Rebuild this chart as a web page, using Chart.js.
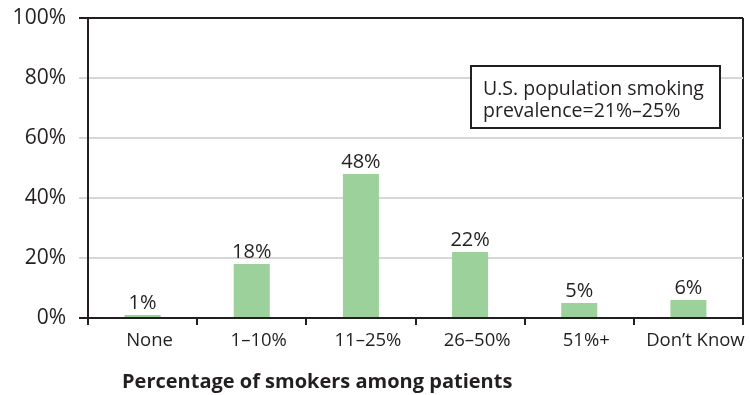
<!DOCTYPE html>
<html>
<head>
<meta charset="utf-8">
<script src="https://cdn.jsdelivr.net/npm/chart.js@4/dist/chart.umd.min.js"></script>
<style>
  html, body { margin: 0; padding: 0; background: #ffffff; }
  canvas { display: block; }
</style>
</head>
<body>
<canvas id="chart" width="750" height="395"></canvas>
<script>
// Share of physicians' patients who smoke, by reported bracket
const categories = ['None', '1–10%', '11–25%', '26–50%', '51%+', 'Don’t Know'];
const shares = [1, 18, 48, 22, 5, 6];
const yTickValues = [0, 20, 40, 60, 80, 100];
const axisTitle = 'Percentage of smokers among patients';
const noteLines = ['U.S. population smoking', 'prevalence=21%–25%'];

const INK = '#231f20';
const GRID = '#d6d6d6';
const BAR = '#9dd19b';
const FONT = "'Open Sans', sans-serif";

// Value labels above each bar
const valueLabels = {
  id: 'valueLabels',
  afterDatasetsDraw(chart) {
    const ctx = chart.ctx;
    const meta = chart.getDatasetMeta(0);
    ctx.save();
    ctx.fillStyle = INK;
    ctx.font = '20px ' + FONT;
    ctx.textAlign = 'center';
    ctx.textBaseline = 'alphabetic';
    meta.data.forEach((bar, i) => {
      ctx.fillText(shares[i] + '%', bar.x, bar.y - 6);
    });
    ctx.restore();
  }
};

// Boxed note in the upper right and the x-axis caption
const extras = {
  id: 'extras',
  afterDraw(chart) {
    const ctx = chart.ctx;
    const ca = chart.chartArea;
    ctx.save();
    const bx = ca.left + 383, by = ca.top + 48, bw = 249, bh = 62;
    ctx.fillStyle = '#ffffff';
    ctx.fillRect(bx, by, bw, bh);
    ctx.strokeStyle = INK;
    ctx.lineWidth = 2;
    ctx.strokeRect(bx, by, bw, bh);
    ctx.fillStyle = INK;
    ctx.font = '19.5px ' + FONT;
    ctx.textAlign = 'left';
    ctx.textBaseline = 'alphabetic';
    ctx.fillText(noteLines[0], bx + 12, by + 29);
    ctx.fillText(noteLines[1], bx + 12, by + 51);

    ctx.font = 'bold 20px ' + FONT;
    ctx.textBaseline = 'middle';
    ctx.fillText(axisTitle, ca.left + 34, 382);
    ctx.restore();
  }
};

new Chart(document.getElementById('chart'), {
  type: 'bar',
  data: {
    labels: categories,
    datasets: [{
      data: shares,
      backgroundColor: BAR,
      borderWidth: 0,
      categoryPercentage: 1,
      barPercentage: 0.33
    }]
  },
  options: {
    responsive: false,
    animation: false,
    devicePixelRatio: 1,
    layout: { padding: { top: 18, right: 7, left: 0, bottom: 0 } },
    plugins: {
      legend: { display: false },
      tooltip: { enabled: false }
    },
    scales: {
      x: {
        offset: true,
        afterFit(scale) {
          scale.height = 77;
          scale.paddingLeft = 0;
          scale.paddingRight = 0;
        },
        border: { display: true, color: INK, width: 2 },
        grid: {
          offset: true,
          drawOnChartArea: true,
          lineWidth: 2,
          color: c => (c.type === 'tick' ? 'rgba(0,0,0,0)' : INK),
          tickColor: INK,
          tickLength: 7
        },
        ticks: {
          color: INK,
          font: { family: FONT, size: 18.5 },
          padding: 5,
          labelOffset: 7,
          maxRotation: 0,
          autoSkip: false
        }
      },
      y: {
        min: 0,
        max: 100,
        afterFit(scale) {
          scale.width = 88;
          scale.paddingTop = 0;
          scale.paddingBottom = 0;
        },
        afterBuildTicks(scale) { scale.ticks = yTickValues.map(v => ({ value: v })); },
        border: { display: true, color: INK, width: 2 },
        grid: {
          lineWidth: 2,
          color: c => (c.tick && (c.tick.value === 0 || c.tick.value === 100) ? INK : GRID),
          tickColor: c => (c.tick && (c.tick.value === 0 || c.tick.value === 100) ? INK : GRID),
          tickLength: 9
        },
        ticks: {
          color: INK,
          font: { family: FONT, size: 21 },
          padding: 13,
          callback: v => v + '%'
        }
      }
    }
  },
  plugins: [valueLabels, extras]
});
</script>
</body>
</html>
